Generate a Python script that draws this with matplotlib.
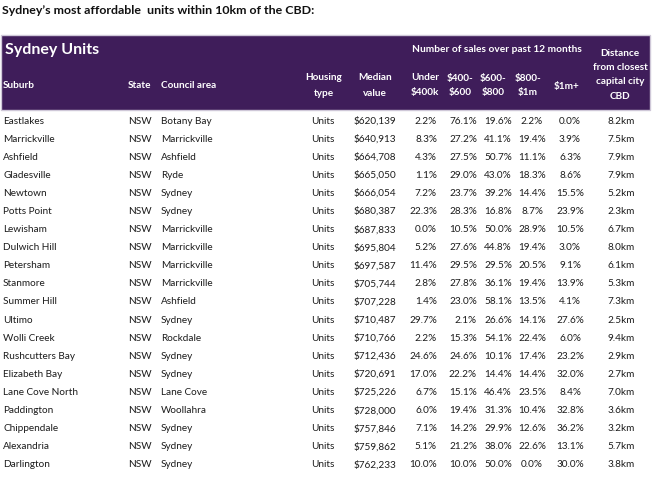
import matplotlib
matplotlib.use("Agg")
import matplotlib.pyplot as plt
from matplotlib.patches import Rectangle

plt.rcParams['font.family'] = ['Lato', 'DejaVu Sans']

title = "Sydney\u2019s most affordable  units within 10km of the CBD:"
table_title = "Sydney Units"
group_header = "Number of sales over past 12 months"

suburbs = ["Eastlakes", "Marrickville", "Ashfield", "Gladesville", "Newtown",
           "Potts Point", "Lewisham", "Dulwich Hill", "Petersham", "Stanmore",
           "Summer Hill", "Ultimo", "Wolli Creek", "Rushcutters Bay", "Elizabeth Bay",
           "Lane Cove North", "Paddington", "Chippendale", "Alexandria", "Darlington"]
states = ["NSW"] * 20
councils = ["Botany Bay", "Marrickville", "Ashfield", "Ryde", "Sydney",
            "Sydney", "Marrickville", "Marrickville", "Marrickville", "Marrickville",
            "Ashfield", "Sydney", "Rockdale", "Sydney", "Sydney",
            "Lane Cove", "Woollahra", "Sydney", "Sydney", "Sydney"]
housing = ["Units"] * 20
median_value = [620139, 640913, 664708, 665050, 666054, 680387, 687833, 695804,
                697587, 705744, 707228, 710487, 710766, 712436, 720691, 725226,
                728000, 757846, 759862, 762233]
under_400k = [2.2, 8.3, 4.3, 1.1, 7.2, 22.3, 0.0, 5.2, 11.4, 2.8,
              1.4, 29.7, 2.2, 24.6, 17.0, 6.7, 6.0, 7.1, 5.1, 10.0]
s400_600 = [76.1, 27.2, 27.5, 29.0, 23.7, 28.3, 10.5, 27.6, 29.5, 27.8,
            23.0, 2.1, 15.3, 24.6, 22.2, 15.1, 19.4, 14.2, 21.2, 10.0]
s600_800 = [19.6, 41.1, 50.7, 43.0, 39.2, 16.8, 50.0, 44.8, 29.5, 36.1,
            58.1, 26.6, 54.1, 10.1, 14.4, 46.4, 31.3, 29.9, 38.0, 50.0]
s800_1m = [2.2, 19.4, 11.1, 18.3, 14.4, 8.7, 28.9, 19.4, 20.5, 19.4,
           13.5, 14.1, 22.4, 17.4, 14.4, 23.5, 10.4, 12.6, 22.6, 0.0]
s1m_plus = [0.0, 3.9, 6.3, 8.6, 15.5, 23.9, 10.5, 3.0, 9.1, 13.9,
            4.1, 27.6, 6.0, 23.2, 32.0, 8.4, 32.8, 36.2, 13.1, 30.0]
distance_km = [8.2, 7.5, 7.9, 7.9, 5.2, 2.3, 6.7, 8.0, 6.1, 5.3,
               7.3, 2.5, 9.4, 2.9, 2.7, 7.0, 3.6, 3.2, 5.7, 3.8]

header_lines = [
    (["Suburb"], 3, 'left'),
    (["State"], 128, 'left'),
    (["Council area"], 161, 'left'),
    (["Housing", "type"], 324, 'center'),
    (["Median", "value"], 375, 'center'),
    (["Under", "$400k"], 425, 'center'),
    (["$400-", "$600"], 460, 'center'),
    (["$600-", "$800"], 493, 'center'),
    (["$800-", "$1m"], 528, 'center'),
    (["$1m+"], 567, 'center'),
]
dist_header = ["Distance", "from closest", "capital city", "CBD"]

W, H = 652, 482
fig = plt.figure(figsize=(W / 100, H / 100), dpi=100)
ax = fig.add_axes([0, 0, 1, 1])
ax.set_xlim(0, W)
ax.set_ylim(H, 0)
ax.axis('off')

purple = '#3f1d5a'
txt = '#1c1c1c'

ax.text(2, 10, title, fontsize=8.9, fontweight='bold', color='#111111',
        ha='left', va='center', parse_math=False)

ax.add_patch(Rectangle((1, 35), 649, 75, facecolor=purple,
                       edgecolor='#cfc8d8', linewidth=1.0))
ax.text(5, 50, table_title, fontsize=11.5, fontweight='bold', color='white',
        ha='left', va='center', parse_math=False)
ax.text(497, 49, group_header, fontsize=7.3, fontweight='bold', color='white',
        ha='center', va='center', parse_math=False)

hsize = 7.2
for lines, x, ha in header_lines:
    if len(lines) == 1:
        ys = [86]
    else:
        ys = [78, 93]
    for line, y in zip(lines, ys):
        ax.text(x, y, line, fontsize=hsize, fontweight='bold', color='white',
                ha=ha, va='center', parse_math=False)
for i, line in enumerate(dist_header):
    ax.text(620, 53 + i * 14.5, line, fontsize=hsize, fontweight='bold',
            color='white', ha='center', va='center', parse_math=False)

bsize = 7.2
y0, dy = 121, 18.1
columns = [
    (suburbs, 3, 'left'),
    (states, 128, 'left'),
    (councils, 161, 'left'),
    (housing, 323, 'center'),
    (["${:,}".format(v) for v in median_value], 375, 'center'),
    (["{:.1f}%".format(v) for v in under_400k], 437, 'right'),
    (["{:.1f}%".format(v) for v in s400_600], 477, 'right'),
    (["{:.1f}%".format(v) for v in s600_800], 512, 'right'),
    (["{:.1f}%".format(v) for v in s800_1m], 532, 'center'),
    (["{:.1f}%".format(v) for v in s1m_plus], 570, 'center'),
    (["{:.1f}km".format(v) for v in distance_km], 635, 'right'),
]
for values, x, ha in columns:
    for i, v in enumerate(values):
        ax.text(x, y0 + i * dy, v, fontsize=bsize, color=txt, ha=ha,
                va='center', parse_math=False)

fig.savefig("out.png", dpi=100, facecolor='white')
